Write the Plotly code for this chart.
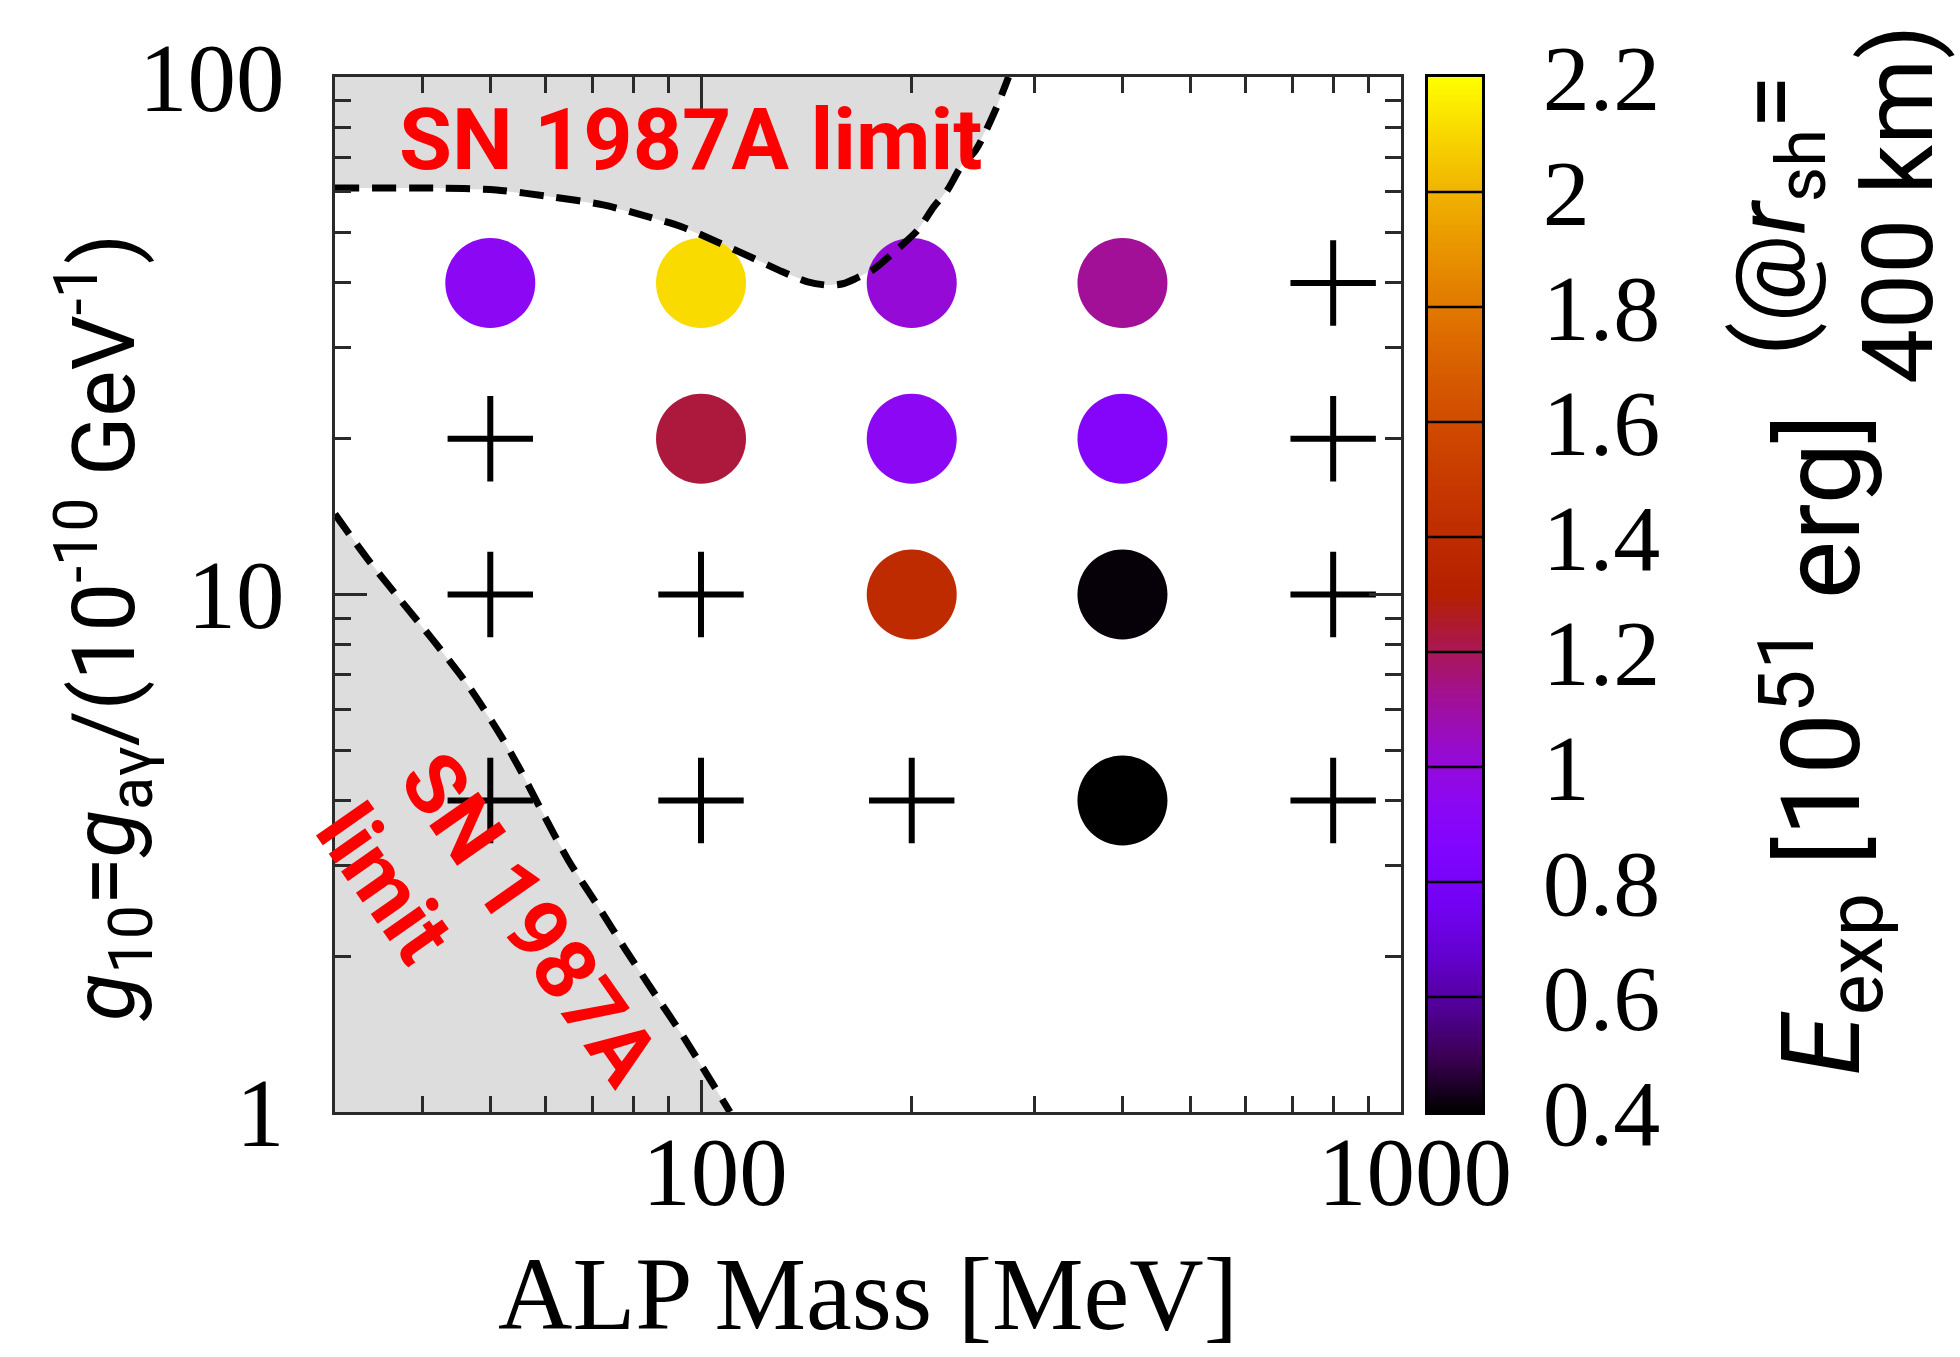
import numpy as np
import plotly.graph_objects as go

# ---------------------------------------------------------------- data
# ALP masses [MeV] and photon couplings g10 of the simulated models
masses = [50, 100, 200, 400, 800]
couplings = [40, 20, 10, 4]

# explosion energy E_exp [1e51 erg] per coupling row; None = no explosion
e_exp_g40 = [0.94, 2.11, 1.01, 1.12, None]
e_exp_g20 = [None, 1.23, 0.94, 0.89, None]
e_exp_g10 = [None, None, 1.40, 0.41, None]
e_exp_g4 = [None, None, None, 0.40, None]
e_exp_rows = [e_exp_g40, e_exp_g20, e_exp_g10, e_exp_g4]

# SN 1987A exclusion boundary, upper branch (mass [MeV], g10)
sn_upper_mass = [30, 42, 51, 61.5, 72.5, 84.4, 94, 105.5, 117.7, 131, 142,
                 152, 160, 167, 176, 188, 204, 215, 225, 235, 247, 264, 275]
sn_upper_g = [61.0, 61.0, 60.5, 58.6, 56.6, 53.6, 51.3, 48.0, 44.9, 42.0, 40.2,
              39.6, 39.9, 40.9, 42.4, 45.7, 50.6, 56.1, 60.5, 67.0, 72.3, 87.0, 100]

# SN 1987A exclusion boundary, lower branch
sn_lower_mass = [30, 33.3, 37.2, 41.4, 46.3, 51.7, 55.2, 58.9, 64.6, 71.8, 78.0, 84.7, 94.3, 110]
sn_lower_g = [14.3, 11.77, 9.76, 8.17, 6.72, 5.35, 4.58, 3.87, 3.07, 2.46, 2.06, 1.74, 1.40, 1.0]

# colour bar
cbar_min, cbar_max = 0.4, 2.2
cbar_ticks = [0.4, 0.6, 0.8, 1.0, 1.2, 1.4, 1.6, 1.8, 2.0, 2.2]
cbar_ticktext = ["0.4", "0.6", "0.8", "1", "1.2", "1.4", "1.6", "1.8", "2", "2.2"]
cbar_bands = [0.6, 0.8, 1.0, 1.2, 1.4, 1.6, 1.8, 2.0]

x_ticks = [100, 1000]
x_minor = [40, 50, 60, 70, 80, 90, 200, 300, 400, 500, 600, 700, 800, 900]
y_ticks = [1, 10, 100]
y_minor = [2, 3, 4, 5, 6, 7, 8, 9, 20, 30, 40, 50, 60, 70, 80, 90]

# black -> violet -> red -> orange -> yellow palette
palette = [
    [0.00, "rgb(0,0,0)"], [0.05, "rgb(57,0,79)"], [0.10, "rgb(81,0,150)"],
    [0.15, "rgb(99,1,206)"], [0.20, "rgb(114,2,243)"], [0.25, "rgb(128,4,255)"],
    [0.30, "rgb(140,7,243)"], [0.35, "rgb(151,11,206)"], [0.40, "rgb(161,16,150)"],
    [0.45, "rgb(171,23,79)"], [0.50, "rgb(180,32,0)"], [0.55, "rgb(189,42,0)"],
    [0.60, "rgb(198,55,0)"], [0.65, "rgb(206,70,0)"], [0.70, "rgb(213,87,0)"],
    [0.75, "rgb(221,108,0)"], [0.80, "rgb(228,131,0)"], [0.85, "rgb(235,157,0)"],
    [0.90, "rgb(242,186,0)"], [0.95, "rgb(249,219,0)"], [1.00, "rgb(255,255,0)"],
]

SERIF = "Liberation Serif, Times New Roman, serif"
SANS = "Roboto, Lato, sans-serif"
AXIS_COL = "#2a2a2a"
SHADE = "#dddddd"

# ---------------------------------------------------------------- figure
fig = go.Figure()

# excluded regions
fig.add_trace(go.Scatter(
    x=sn_upper_mass + [30], y=sn_upper_g + [100],
    fill="toself", fillcolor=SHADE, mode="none", hoverinfo="skip", showlegend=False))
fig.add_trace(go.Scatter(
    x=sn_lower_mass + [30], y=sn_lower_g + [1],
    fill="toself", fillcolor=SHADE, mode="none", hoverinfo="skip", showlegend=False))

# models: filled circles (explosion energy) and crosses (no explosion)
dot_m, dot_g, dot_e, cross_m, cross_g = [], [], [], [], []
for g, row in zip(couplings, e_exp_rows):
    for m, e in zip(masses, row):
        if e is None:
            cross_m.append(m)
            cross_g.append(g)
        else:
            dot_m.append(m)
            dot_g.append(g)
            dot_e.append(e)

fig.add_trace(go.Scatter(
    x=dot_m, y=dot_g, mode="markers", showlegend=False,
    marker=dict(size=90, color=dot_e, coloraxis="coloraxis", line=dict(width=0))))
fig.add_trace(go.Scatter(
    x=cross_m, y=cross_g, mode="markers", showlegend=False,
    marker=dict(symbol="cross-thin", size=61, line=dict(width=6, color="black"))))

# dashed SN 1987A boundaries
for xs, ys in [(sn_upper_mass, sn_upper_g), (sn_lower_mass, sn_lower_g)]:
    fig.add_trace(go.Scatter(
        x=xs, y=ys, mode="lines", showlegend=False, hoverinfo="skip",
        line=dict(color="black", width=7, dash="24px,13px", shape="spline", smoothing=0.8)))

# colour bar drawn as a thin heatmap on its own axes
levels = np.linspace(cbar_min, cbar_max, 361)
fig.add_trace(go.Heatmap(
    x=[0.5], y=levels, z=[[v] for v in levels], coloraxis="coloraxis",
    xaxis="x2", yaxis="y2", hoverinfo="skip"))
for v in cbar_bands:
    fig.add_shape(type="line", xref="x2 domain", yref="y2", x0=0, x1=1, y0=v, y1=v,
                  line=dict(color="black", width=2.5), layer="above")

plot_x = [335 / 1960, 1401 / 1960]
plot_y = [245 / 1357, 1280 / 1357]

axis_common = dict(
    type="log", showline=True, linewidth=3, linecolor=AXIS_COL, mirror="ticks",
    ticks="inside", ticklen=32, tickwidth=3, tickcolor=AXIS_COL, automargin=False,
    showgrid=False, zeroline=False, tickfont=dict(family=SERIF, size=97, color="black"),
)

fig.update_layout(
    width=1960, height=1357, autosize=False,
    margin=dict(l=0, r=0, t=0, b=0),
    paper_bgcolor="white", plot_bgcolor="white",
    coloraxis=dict(cmin=cbar_min, cmax=cbar_max, colorscale=palette, showscale=False),
    xaxis=dict(
        axis_common, domain=plot_x, range=[np.log10(30), 3],
        tickmode="array", tickvals=x_ticks, ticktext=[str(v) for v in x_ticks],
        ticklabelstandoff=-26, ticklabelshift=14,
        minor=dict(ticks="inside", ticklen=16, tickwidth=2.5, tickcolor=AXIS_COL,
                   tickmode="array", tickvals=x_minor, showgrid=False),
    ),
    yaxis=dict(
        axis_common, domain=plot_y, range=[0, 2],
        tickmode="array", tickvals=y_ticks, ticktext=[str(v) for v in y_ticks],
        ticklabelstandoff=28,
        minor=dict(ticks="inside", ticklen=16, tickwidth=2.5, tickcolor=AXIS_COL,
                   tickmode="array", tickvals=y_minor, showgrid=False),
    ),
    xaxis2=dict(
        domain=[1428 / 1960, 1482 / 1960], range=[0, 1], anchor="y2", automargin=False,
        showticklabels=False, ticks="", showgrid=False, zeroline=False,
        showline=True, mirror=True, linewidth=3, linecolor="black",
    ),
    yaxis2=dict(
        domain=plot_y, range=[cbar_min, cbar_max], anchor="x2", side="right",
        automargin=False,
        tickmode="array", tickvals=cbar_ticks, ticktext=cbar_ticktext,
        ticks="", showgrid=False, zeroline=False, ticklabelstandoff=39,
        showline=True, mirror=True, linewidth=3, linecolor="black",
        tickfont=dict(family=SERIF, size=94, color="black"),
    ),
)

annotations = [
    # axis titles
    dict(text="ALP Mass [MeV]", x=868 / 1960, y=(1357 - 1294) / 1357,
         font=dict(family=SERIF, size=103, color="black")),
    dict(text="<i>g</i><sub>10</sub>=<i>g</i><sub>aγ</sub>/(10<sup>-10</sup> GeV<sup>-1</sup>)",
         x=104 / 1960, y=(1357 - 628) / 1357, textangle=-90,
         font=dict(family=SANS, size=87, color="black")),
    dict(text="<i>E</i><sub>exp</sub> [10<sup>51</sup> erg]",
         x=1822 / 1960, y=(1357 - 745) / 1357, textangle=-90,
         font=dict(family=SANS, size=110, color="black")),
    dict(text="(@<i>r</i><sub>sh</sub>=",
         x=1778 / 1960, y=(1357 - 216) / 1357, textangle=-90,
         font=dict(family=SANS, size=98, color="black")),
    dict(text="400 km)",
         x=1898 / 1960, y=(1357 - 205) / 1357, textangle=-90,
         font=dict(family=SANS, size=98, color="black")),
    # SN 1987A labels
    dict(text="<b>SN 1987A limit</b>", x=690 / 1960, y=(1357 - 140) / 1357,
         font=dict(family=SANS, size=86, color="#ff0000")),
    dict(text="<b>SN 1987A</b>", x=530 / 1960, y=(1357 - 919) / 1357, textangle=55,
         font=dict(family=SANS, size=84, color="#ff0000")),
    dict(text="<b>limit</b>", x=384 / 1960, y=(1357 - 884) / 1357, textangle=55,
         font=dict(family=SANS, size=84, color="#ff0000")),
]
for a in annotations:
    fig.add_annotation(xref="paper", yref="paper", showarrow=False,
                       xanchor="center", yanchor="middle", **a)

fig.write_html("out.html")
